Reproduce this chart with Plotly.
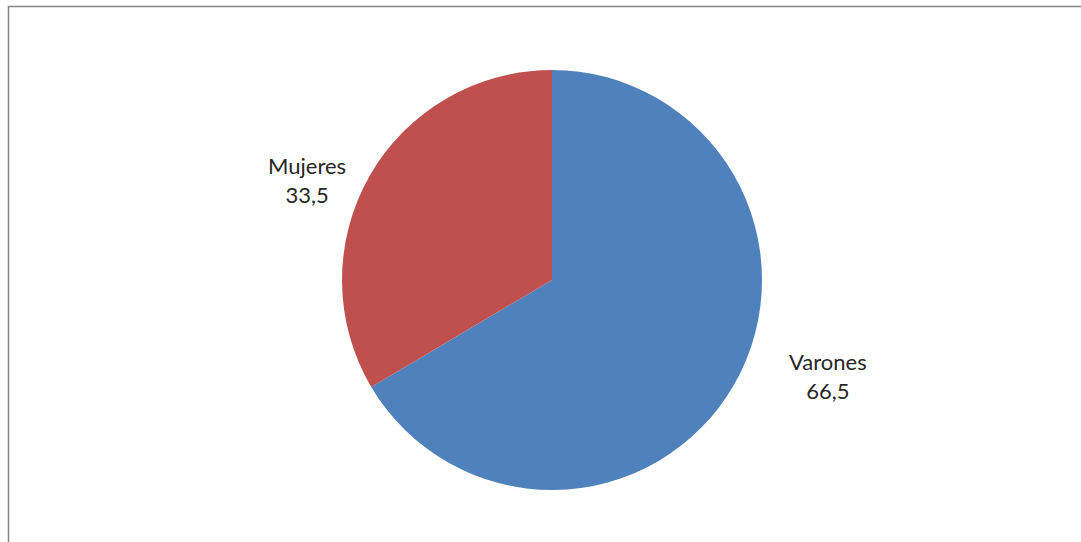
import plotly.graph_objects as go

labels = ["Varones", "Mujeres"]
values = [66.5, 33.5]
colors = ["#4F81BD", "#C0504D"]

W, H = 1081, 542


def px_x(x):
    return x / W


def px_y(y):
    return 1 - y / H


cx, cy, r = 552, 280, 210
fig = go.Figure()
fig.add_trace(go.Pie(
    labels=labels, values=values, sort=False, direction="clockwise", rotation=0,
    marker=dict(colors=colors, line=dict(width=0)),
    textinfo="none", hoverinfo="label+value", showlegend=False,
    domain=dict(x=[px_x(cx - r), px_x(cx + r)], y=[px_y(cy + r), px_y(cy - r)]),
))

label_pos = {"Varones": (828, 376), "Mujeres": (307, 180)}
for lab, val in zip(labels, values):
    lx, ly = label_pos[lab]
    fig.add_annotation(
        x=px_x(lx), y=px_y(ly), xref="paper", yref="paper",
        xanchor="center", yanchor="middle",
        text=f"{lab}<br>{str(val).replace('.', ',')}", showarrow=False,
        font=dict(family="Lato, Open Sans, sans-serif", size=22, color="#262626"),
        align="center",
    )

fig.add_shape(type="rect", xref="paper", yref="paper",
              x0=px_x(8.5), x1=1.02, y0=-0.02, y1=px_y(6.5),
              line=dict(color="#868686", width=1.5), fillcolor="rgba(0,0,0,0)")

fig.update_layout(width=W, height=H, margin=dict(l=0, r=0, t=0, b=0),
                  paper_bgcolor="white", plot_bgcolor="white")
fig.write_html("out.html", config={"displayModeBar": False},
               post_script="document.body.style.margin='0';document.body.style.overflow='hidden';")
